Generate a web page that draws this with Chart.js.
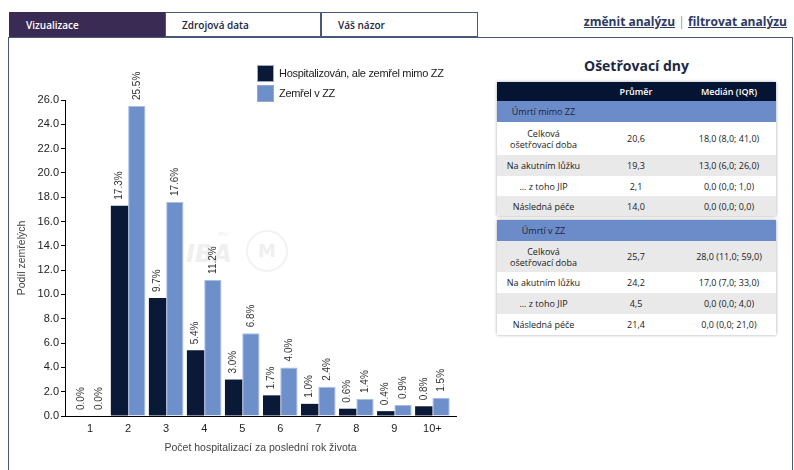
<!DOCTYPE html>
<html>
<head>
<meta charset="utf-8">
<script src="https://cdn.jsdelivr.net/npm/chart.js@4.4.1/dist/chart.umd.min.js"></script>
<style>
  html, body { margin: 0; padding: 0; background: #fff; }
  body { width: 794px; height: 470px; position: relative; overflow: hidden; font-family: "Open Sans", "Noto Sans", sans-serif; }
  .tab { position: absolute; top: 12px; height: 25px; line-height: 25px; box-sizing: border-box; border: 1px solid #4a5878; font-size: 10px; font-weight: 600; color: #1d2640; padding-left: 16px; }
  .tab.on { background: #3a2b54; color: #fff; border-color: #3a2b54; }
  .links { position: absolute; top: 13px; right: 7px; font-size: 12px; font-weight: 700; color: #2b3a60; }
  .links a { color: #2b3a60; text-decoration: underline; }
  .links span { color: #8a93a8; font-weight: 400; }
  .panel { position: absolute; left: 8px; top: 37px; width: 785px; height: 460px; box-sizing: border-box; border: 1px solid #4a5878; }
  #wrap { position: absolute; left: 0; top: 40px; width: 480px; height: 430px; }
  .legend { position: absolute; left: 257px; font-family: "Liberation Sans", Arial, sans-serif; font-size: 11px; color: #222; letter-spacing: -0.3px; }
  .legend i { position: absolute; left: 0; width: 15px; height: 15px; border: 1px solid #9aa8c0; }
  .legend b { position: absolute; left: 22px; font-weight: 400; white-space: nowrap; }
  .wm { position: absolute; color: #efefef; font-family: "DejaVu Sans", sans-serif; }
  h3 { position: absolute; left: 497px; width: 279px; top: 56px; margin: 0; text-align: center; font-size: 14px; font-weight: 700; color: #1c2742; }
  table { position: absolute; left: 497px; width: 279px; border-collapse: collapse; table-layout: fixed; box-shadow: 0 0 3px rgba(0,0,0,0.35); font-size: 9px; color: #1a1a1a; }
  td, th { padding: 0 1px; text-align: center; line-height: 11px; white-space: nowrap; }
  th { background: #061434; color: #fff; font-weight: 600; height: 19px; }
  tr.sec td { background: #6b8cc8; color: #1a2440; height: 21px; }
  tr.g td { background: #e9e9e9; }
  tr.w td { background: #fff; }
</style>
</head>
<body>
<div class="panel"></div>
<div class="tab on" style="left:9px;width:156px;">Vizualizace</div>
<div class="tab" style="left:165px;width:156px;">Zdrojová data</div>
<div class="tab" style="left:321px;width:157px;">Váš názor</div>
<div class="links"><a>změnit analýzu</a> <span>|</span> <a>filtrovat analýzu</a></div>

<div class="wm" style="left:186px;top:240px;font-size:24px;font-weight:700;font-style:italic;">IBA</div>
<div class="wm" style="left:218px;top:230px;font-size:6px;">MU</div>
<div class="wm" style="left:246px;top:230px;width:38px;height:38px;border:2px solid #f2f2f2;border-radius:50%;text-align:center;line-height:38px;font-size:18px;font-weight:700;">M</div>

<div id="wrap"><canvas id="c"></canvas></div>

<div class="legend" style="top:65px;"><i style="background:#0a1936"></i><b style="top:2px">Hospitalizován, ale zemřel mimo ZZ</b></div>
<div class="legend" style="top:85px;"><i style="background:#6d8fca"></i><b style="top:2px">Zemřel v ZZ</b></div>

<h3>Ošetřovací dny</h3>
<table style="top:82px;">
  <colgroup><col style="width:93px"><col style="width:92px"><col style="width:94px"></colgroup>
  <tr><th></th><th>Průměr</th><th>Medián (IQR)</th></tr>
  <tr class="sec"><td>Úmrtí mimo ZZ</td><td></td><td></td></tr>
  <tr class="w" style="height:33px"><td>Celková<br>ošetřovací doba</td><td>20,6</td><td>18,0 (8,0; 41,0)</td></tr>
  <tr class="g" style="height:21px"><td>Na akutním lůžku</td><td>19,3</td><td>13,0 (6,0; 26,0)</td></tr>
  <tr class="w" style="height:20px"><td>... z toho JIP</td><td>2,1</td><td>0,0 (0,0; 1,0)</td></tr>
  <tr class="g" style="height:20px"><td>Následná péče</td><td>14,0</td><td>0,0 (0,0; 0,0)</td></tr>
</table>
<table style="top:220px;">
  <colgroup><col style="width:93px"><col style="width:92px"><col style="width:94px"></colgroup>
  <tr class="sec"><td>Úmrtí v ZZ</td><td></td><td></td></tr>
  <tr class="g" style="height:31px"><td>Celková<br>ošetřovací doba</td><td>25,7</td><td>28,0 (11,0; 59,0)</td></tr>
  <tr class="w" style="height:21px"><td>Na akutním lůžku</td><td>24,2</td><td>17,0 (7,0; 33,0)</td></tr>
  <tr class="g" style="height:21px"><td>... z toho JIP</td><td>4,5</td><td>0,0 (0,0; 4,0)</td></tr>
  <tr class="w" style="height:21px"><td>Následná péče</td><td>21,4</td><td>0,0 (0,0; 21,0)</td></tr>
</table>

<script>
const categories = ['1', '2', '3', '4', '5', '6', '7', '8', '9', '10+'];
const diedOutside = [0.0, 17.3, 9.7, 5.4, 3.0, 1.7, 1.0, 0.6, 0.4, 0.8];
const diedInHospital = [0.0, 25.5, 17.6, 11.2, 6.8, 4.0, 2.4, 1.4, 0.9, 1.5];
const seriesNames = ['Hospitalizován, ale zemřel mimo ZZ', 'Zemřel v ZZ'];

const AXIS_FONT = { family: '"Liberation Sans", Arial, sans-serif', size: 11 };

// rotated "12.3%" labels just above every bar
const barLabels = {
  id: 'barLabels',
  afterDatasetsDraw(chart) {
    const ctx = chart.ctx;
    ctx.save();
    ctx.font = '10px "Liberation Sans", Arial, sans-serif';
    ctx.fillStyle = '#333';
    ctx.textAlign = 'left';
    ctx.textBaseline = 'middle';
    chart.data.datasets.forEach((ds, di) => {
      chart.getDatasetMeta(di).data.forEach((bar, i) => {
        ctx.save();
        ctx.translate(bar.x, bar.y - 6);
        ctx.rotate(-Math.PI / 2);
        ctx.fillText(ds.data[i].y.toFixed(1) + '%', 0, 0);
        ctx.restore();
      });
    });
    ctx.restore();
  }
};

new Chart(document.getElementById('c'), {
  type: 'bar',
  data: {
    datasets: [
      { label: seriesNames[0], data: categories.map((c, i) => ({ x: i, y: diedOutside[i] })), backgroundColor: '#0a1936', borderWidth: 0 },
      { label: seriesNames[1], data: categories.map((c, i) => ({ x: i, y: diedInHospital[i] })), backgroundColor: '#6d8fca', borderColor: '#a9bde3', borderWidth: 1 },
    ]
  },
  options: {
    responsive: true, maintainAspectRatio: false, animation: false,
    layout: { padding: { top: 60, right: 24, left: 0, bottom: 0 } },
    datasets: { bar: { categoryPercentage: 0.91, barPercentage: 1 } },
    plugins: { legend: { display: false }, tooltip: { enabled: false } },
    scales: {
      x: {
        type: 'linear', offset: false, min: -0.66, max: 9.62,
        afterBuildTicks: s => { s.ticks = categories.map((c, i) => ({ value: i })); },
        afterFit: s => { s.height = 54; },
        grid: { display: false, drawTicks: false },
        border: { color: '#000', width: 1 },
        ticks: { padding: 6, color: '#222', font: AXIS_FONT, maxRotation: 0, autoSkip: false, callback: v => categories[v] },
        title: { display: true, text: 'Počet hospitalizací za poslední rok života', color: '#444', font: { family: AXIS_FONT.family, size: 10.5 }, padding: { top: 4, bottom: 16 } }
      },
      y: {
        min: 0, max: 26,
        afterFit: s => { s.width = 65; },
        grid: { drawOnChartArea: false, drawTicks: true, tickLength: 4, color: '#000' },
        border: { color: '#000', width: 1 },
        ticks: { stepSize: 2, padding: 2, color: '#222', font: AXIS_FONT, callback: v => v.toFixed(1) },
        title: { display: true, text: 'Podíl zemřelých', color: '#444', font: { family: AXIS_FONT.family, size: 10.5 }, padding: { top: 16, bottom: 0 } }
      }
    }
  },
  plugins: [barLabels]
});
</script>
</body>
</html>
